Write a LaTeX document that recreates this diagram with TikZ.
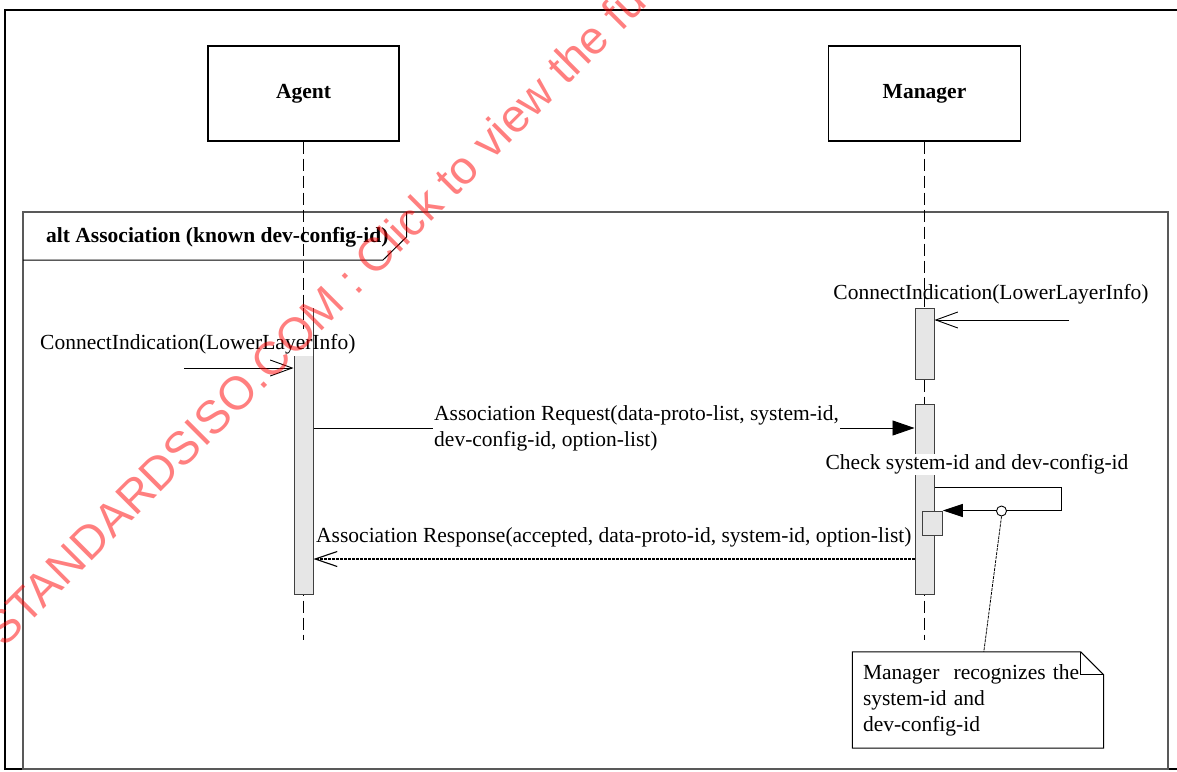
\documentclass[tikz,border=0pt]{standalone}
\usepackage{fontspec}
\setmainfont{Liberation Serif}
\newfontfamily\wmfont{Liberation Sans}
\usetikzlibrary{arrows.meta}
\definecolor{actgray}{HTML}{E6E6E6}
\begin{document}
\begin{tikzpicture}[x=1pt,y=-1pt,
  txt/.style={font=\fontsize{21.5}{26}\selectfont, inner sep=1pt},
  btxt/.style={font=\fontsize{21.5}{26}\selectfont\bfseries, inner sep=1pt},
  lifebox/.style={draw, line width=1.2pt, minimum height=95pt, inner sep=0pt, font=\fontsize{21.5}{26}\selectfont\bfseries},
  act/.style={draw=black!75, fill=actgray, line width=1pt, minimum width=19pt, inner sep=0pt},
  life/.style={dash pattern=on 12pt off 5pt, line width=1pt},
  msg/.style={line width=0.9pt},
  openhead/.style={-{Straight Barb[length=22pt,width=16pt]}},
  fullhead/.style={-{Triangle[length=22pt,width=15pt]}},
  wm/.style={font=\wmfont\fontsize{46.5}{50}\selectfont, text=red, text opacity=0.5, inner sep=0pt}
]
\useasboundingbox (0,0) rectangle (1177,771);

% outer frame
\draw[line width=2.2pt] (1177,10) -- (5,10) -- (5,769) -- (1177,769);

% alt frame
\draw[draw=black!65, line width=1.3pt] (23,212) rectangle (1168,769);
\draw[line width=1pt] (23,260) -- (383,260) -- (406.5,237) -- (406.5,212);
\node[btxt, anchor=west] (altlbl) at (45,237) {alt Association (known dev-config-id)};

% lifeline heads
\node[lifebox, minimum width=191pt] (agent) at (303.5,93.5) {\raisebox{-2pt}{Agent}};
\node[lifebox, minimum width=192pt] (manager) at (924.5,93.5) {\raisebox{-2pt}{Manager}};
\coordinate (aEnd) at (303.5,640);
\coordinate (mEnd) at (924.5,640);
\draw[life] (agent.south) -- (aEnd);
\draw[life] (manager.south) -- (mEnd);

% activations
\node[act, minimum height=286pt] (aAct) at (303.5,451) {};
\fill[white] ([shift={(0.5pt,-0.5pt)}]aAct.north west) rectangle (312.5,356);
\draw[life] (aAct.north) -- (303.5,329);
\node[act, minimum height=71pt] (mAct1) at (924.5,343.5) {};
\node[act, minimum height=190pt] (mAct2) at (924.5,499) {};
\node[act, minimum width=19.6pt, minimum height=24pt] (mSub) at (932.5,523) {};

% ConnectIndication to agent
\coordinate (ciA) at (184,368);
\draw[msg, openhead] (ciA) -- (aAct.west |- ciA);
\node[txt, anchor=west] (ciAlbl) at (39,344) {ConnectIndication(LowerLayerInfo)};

% ConnectIndication to manager
\coordinate (ciM) at (1069,320);
\draw[msg, openhead] (ciM) -- (mAct1.east |- ciM);
\node[txt] (ciMlbl) at (991,294) {ConnectIndication(LowerLayerInfo)};

% Association request
\coordinate (yReq) at (0,428);
\draw[msg, fullhead] (aAct.east |- yReq) -- (mAct2.west |- yReq);
\node[txt, fill=white, anchor=west, align=left] (reqlbl) at (433,428.5)
  {Association Request(data-proto-list, system-id,\\dev-config-id, option-list)};

% Check self message
\node[txt, fill=white] (chklbl) at (977,464.5) {Check system-id and dev-config-id};
\coordinate (loopR) at (1061.5,487.5);
\draw[msg, -{Triangle[length=20pt,width=13pt]}] (mAct2.east |- loopR) -- (loopR) |- (mSub.north east);
\node[circle, draw, fill=white, line width=0.9pt, minimum size=10pt, inner sep=0pt] (anc) at (1001.5,511) {};

% Association response
\coordinate (yResp) at (0,559);
\draw[msg, line width=1.1pt, dash pattern=on 3pt off 1pt, -{Straight Barb[length=22pt,width=15pt]}] (mAct2.west |- yResp) -- (aAct.east |- yResp);
\node[txt, anchor=west] (resplbl) at (315,537) {Association Response(accepted, data-proto-id, system-id, option-list)};

% note
\node[txt, minimum width=251pt, minimum height=96pt, text width=230pt, inner xsep=10.5pt, align=left] (note) at (978,700)
  {Manager\ \ recognizes the\\system-id and\\dev-config-id};
\draw[line width=1pt] (note.north west) -- ([xshift=-23pt]note.north east) -- ([yshift=-23pt]note.north east) -- (note.south east) -- (note.south west) -- cycle;
\draw[line width=1pt] ([xshift=-23pt]note.north east) |- ([yshift=-23pt]note.north east);
\draw[line width=0.8pt, dash pattern=on 3pt off 1pt] (anc.south) -- ([xshift=131.5pt]note.north west);

% watermark
\node[wm, anchor=base west, rotate=45] (wmark) at (4,649) {STANDARDSISO.COM : Click to view the fu};
\end{tikzpicture}
\end{document}
